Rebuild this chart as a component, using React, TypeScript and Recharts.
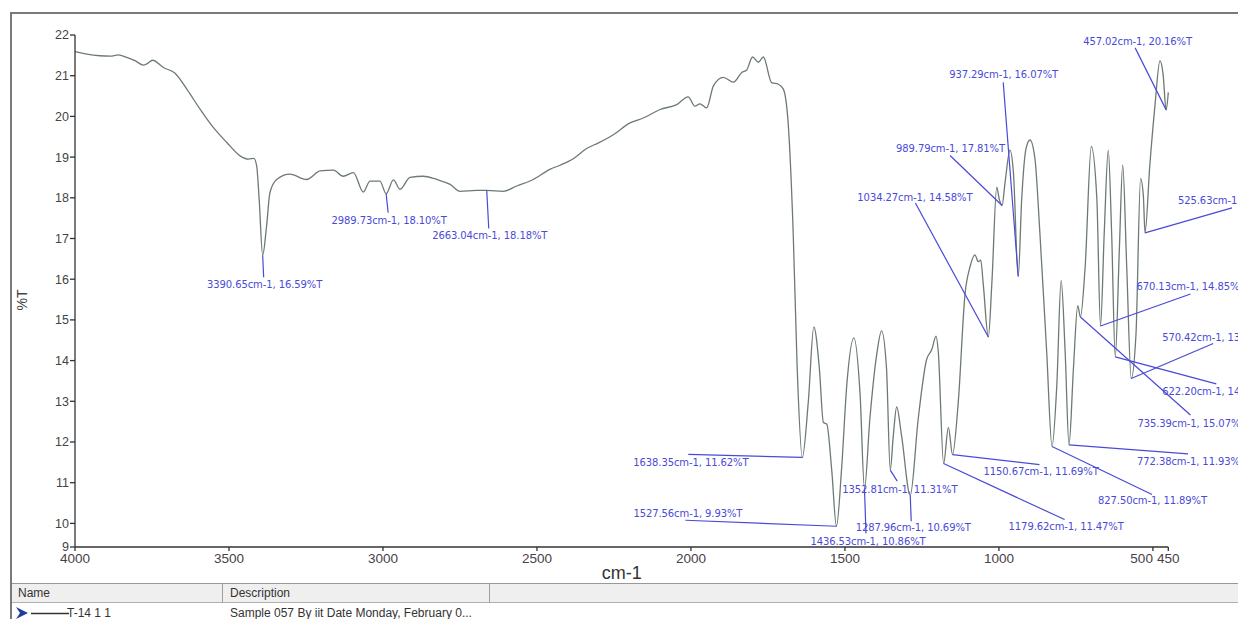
import React from 'react';
import { ComposedChart, Line, XAxis, YAxis } from 'recharts';

// IR spectrum trace: wavenumber (cm-1) and transmittance (%T)
const wavenumbers = [
  4000, 3962, 3919, 3886, 3859, 3832, 3805, 3778, 3767, 3748, 3713, 3675, 3637, 3594, 3551, 3507,
  3464, 3437, 3419, 3410, 3402, 3390.65, 3378, 3367, 3345, 3302, 3248, 3204, 3161, 3129, 3096, 3064,
  3042, 3010, 2989.73, 2966, 2945, 2912, 2869, 2826, 2782, 2750, 2696, 2663.04, 2609, 2566, 2512,
  2458, 2425, 2382, 2339, 2300, 2252, 2198, 2155, 2100, 2046, 2009, 1987, 1971, 1949, 1927, 1895,
  1862, 1835, 1819, 1800, 1781, 1765, 1738, 1716, 1700, 1684, 1668, 1655, 1638.35, 1619, 1601, 1583,
  1570, 1559, 1543, 1527.56, 1511, 1494, 1471, 1451, 1436.53, 1419, 1397, 1381, 1365, 1352.81, 1343,
  1332, 1316, 1287.96, 1262, 1235, 1218, 1204, 1197, 1179.62, 1164, 1150.67, 1132, 1110, 1094, 1078,
  1067, 1059, 1051, 1034.27, 1023, 1007, 999, 989.79, 980, 964, 953, 937.29, 926, 912, 899, 883, 867,
  845, 827.5, 812, 798, 785, 772.38, 758, 744, 735.39, 720, 700, 682, 670.13, 658, 645, 634, 622.2,
  609, 598, 585, 570.42, 555, 540, 531, 525.63, 510, 493, 477, 467, 457.02, 450,
];
const transmittance = [
  21.59, 21.53, 21.49, 21.48, 21.51, 21.45, 21.37, 21.26, 21.29, 21.38, 21.2, 21.06, 20.67, 20.18, 19.73, 19.36,
  19.03, 18.95, 18.97, 18.78, 17.96, 16.59, 17.3, 18.13, 18.45, 18.58, 18.45, 18.66, 18.68, 18.53, 18.62, 18.14,
  18.41, 18.41, 18.1, 18.44, 18.21, 18.5, 18.53, 18.45, 18.33, 18.16, 18.18, 18.18, 18.16, 18.29, 18.45,
  18.7, 18.8, 18.96, 19.21, 19.35, 19.55, 19.84, 19.96, 20.17, 20.29, 20.48, 20.25, 20.31, 20.21, 20.75, 20.96,
  20.84, 21.08, 21.14, 21.46, 21.33, 21.46, 20.83, 20.79, 20.67, 19.8, 17.14, 13.81, 11.62, 12.98, 14.83, 13.81,
  12.48, 12.44, 11.32, 9.93, 11.32, 13.4, 14.56, 13.2, 10.86, 12.57, 14.14, 14.73, 13.81, 11.31, 12.15,
  12.86, 12.15, 10.69, 12.57, 14.02, 14.27, 14.6, 14.23, 11.47, 12.36, 11.69, 12.98, 15.64, 16.3, 16.6,
  16.43, 16.47, 15.89, 14.58, 15.89, 18.26, 17.97, 17.81, 18.38, 19.17, 18.63, 16.07, 17.97, 19.21, 19.42, 18.96, 17.14,
  14.23, 11.89, 13.4, 15.97, 14.23, 11.93, 13.81, 15.35, 15.07, 16.3, 19.26, 17.97, 14.85, 17.14, 19.17, 17.14, 14.09,
  16.72, 18.81, 16.3, 13.56, 14.64, 18.47, 18.05, 17.14, 18.8, 20.29, 21.37, 21.04, 20.16, 20.59,
];

// Picked peaks
const peakWavenumbers = [
  3390.65, 2989.73, 2663.04, 1638.35, 1527.56, 1436.53, 1352.81, 1287.96, 1179.62, 1150.67, 1034.27,
  989.79, 937.29, 457.02, 525.63, 570.42, 622.2, 670.13, 735.39, 772.38, 827.5,
];
const peakTransmittance = [
  16.59, 18.1, 18.18, 11.62, 9.93, 10.86, 11.31, 10.69, 11.47, 11.69, 14.58,
  17.81, 16.07, 20.16, 17.14, 13.56, 14.09, 14.85, 15.07, 11.93, 11.89,
];

const xTicks = [4000, 3500, 3000, 2500, 2000, 1500, 1000, 500, 450];
const yTicks = [9.42, 10, 11, 12, 13, 14, 15, 16, 17, 18, 19, 20, 21, 22];

const spectrum = wavenumbers.map((wn, i) => ({ wn, t: transmittance[i] }));
const peaks = peakWavenumbers.map((wn, i) => ({ wn, t: peakTransmittance[i] }));

// Callout layout for each peak (pixels relative to the peak):
// leader end dx, dy, text dx, dy, text anchor
const calloutLayout: [number, number, number, number, 'start' | 'middle'][] = [
  [1, 22, 2, 33, 'middle'],
  [2, 19, 3, 30, 'middle'],
  [2, 38, 3, 49, 'middle'],
  [-114, -3, -169, 9, 'start'],
  [-151, -6, -203, -9, 'start'],
  [1.5, 45, 3.5, 57, 'middle'],
  [7, 11, -48, 23, 'start'],
  [1, 26, 3, 36, 'middle'],
  [121, 56, 65, 66, 'start'],
  [87, 10, 31, 20, 'start'],
  [-73, -134, -131, -136, 'start'],
  [-52, -50, -106, -54, 'start'],
  [-15, -194, -69, -198, 'start'],
  [-31, -62, -83, -65, 'start'],
  [87, -25, 33, -29, 'start'],
  [82, -35, 31, -38, 'start'],
  [101, 27, 47, 38, 'start'],
  [90, -32, 36, -36, 'start'],
  [110, 98, 57, 110, 'start'],
  [119, 9, 68, 20, 'start'],
  [100, 48, 46, 58, 'start'],
];

const CALLOUT_COLOR = '#4a4ad8';
const AXIS_FONT = '"Liberation Sans", Arial, sans-serif';

const renderCallout = (props: any) => {
  const { cx, cy, index, payload } = props;
  const [ldx, ldy, tdx, tdy, anchor] = calloutLayout[index];
  return (
    <g key={`callout-${index}`}>
      <line x1={cx} y1={cy} x2={cx + ldx} y2={cy + ldy} stroke={CALLOUT_COLOR} strokeWidth={1.2} />
      <text
        x={cx + tdx}
        y={cy + tdy}
        textAnchor={anchor}
        fontSize={10}
        letterSpacing={-0.1}
        fontFamily='"DejaVu Sans", Verdana, sans-serif'
        fill={CALLOUT_COLOR}
      >
        {`${payload.wn.toFixed(2)}cm-1, ${payload.t.toFixed(2)}%T`}
      </text>
    </g>
  );
};

const XTick = (props: any) => {
  const { x, y, payload } = props;
  const anchor = payload.value === 500 ? 'end' : 'middle';
  return (
    <text x={x} y={y} dy={10} textAnchor={anchor} fontSize={13.5} fontFamily={AXIS_FONT} fill="#4a4048">
      {payload.value}
    </text>
  );
};

const YLabel = (props: any) => {
  const { viewBox } = props;
  const x = viewBox.x + 14;
  const y = viewBox.y + viewBox.height / 2 + 9;
  return (
    <text x={x} y={y} transform={`rotate(-90, ${x}, ${y})`} textAnchor="middle" dominantBaseline="central"
      fontSize={14} fontFamily={AXIS_FONT} fill="#444">
      %T
    </text>
  );
};

export default function App() {
  return (
    <div style={{ position: 'fixed', left: 0, top: 0, width: 1238, height: 619, overflow: 'hidden', background: '#fff' }}>
      {/* window frame */}
      <div
        style={{
          position: 'absolute', left: 10, top: 12, width: 1260, height: 640,
          borderTop: '2px solid #7a7a7a', borderLeft: '2px solid #7a7a7a', boxSizing: 'border-box',
        }}
      />
      <div style={{ position: 'absolute', left: 8, top: 8 }}>
        <ComposedChart
          width={1230}
          height={611}
          margin={{ top: 27, right: 69.7, left: 0, bottom: 42 }}
        >
          <XAxis
            dataKey="wn"
            type="number"
            domain={[450, 4000]}
            reversed
            ticks={xTicks}
            interval={0}
            height={30}
            tickSize={4}
            tickMargin={2}
            tick={<XTick />}
            stroke="#333"
            strokeWidth={1.3}
            label={{ value: 'cm-1', position: 'bottom', offset: -11, fontSize: 18, fontFamily: AXIS_FONT, fill: '#333' }}
          />
          <YAxis
            dataKey="t"
            type="number"
            domain={[9.42, 22]}
            ticks={yTicks}
            interval={0}
            width={67}
            tickSize={5}
            tickMargin={1}
            tickFormatter={(v: number) => String(Math.floor(v))}
            tick={{ fontSize: 12.5, fontFamily: AXIS_FONT, fill: '#444' }}
            stroke="#333"
            strokeWidth={1.3}
            label={<YLabel />}
          />
          <Line
            data={spectrum}
            dataKey="t"
            type="monotone"
            stroke="#6d7a73"
            strokeWidth={1.3}
            dot={false}
            activeDot={false}
            isAnimationActive={false}
          />
          <Line
            data={peaks}
            dataKey="t"
            stroke="none"
            dot={renderCallout}
            activeDot={false}
            isAnimationActive={false}
          />
        </ComposedChart>
      </div>
      {/* data-set table */}
      <div
        style={{
          position: 'absolute', left: 12, top: 583, width: 1240, height: 20,
          background: '#efefef', borderTop: '1px solid #999', borderBottom: '1px solid #b0b0b0',
          boxSizing: 'border-box', fontFamily: AXIS_FONT, fontSize: 12, color: '#333',
        }}
      >
        <span style={{ position: 'absolute', left: 6, top: 2 }}>Name</span>
        <div style={{ position: 'absolute', left: 210, top: 0, width: 1, height: 19, background: '#a0a0a0' }} />
        <span style={{ position: 'absolute', left: 218, top: 2 }}>Description</span>
        <div style={{ position: 'absolute', left: 477, top: 0, width: 1, height: 19, background: '#a0a0a0' }} />
      </div>
      <div style={{ position: 'absolute', left: 12, top: 603, width: 1240, height: 16, fontFamily: AXIS_FONT, fontSize: 12, color: '#333' }}>
        <svg style={{ position: 'absolute', left: 3, top: 3 }} width={56} height={14}>
          <path d="M1,1 L13,7 L1,13 L5,7 Z" fill="#1d3c9c" />
          <line x1={16} y1={7.5} x2={54} y2={7.5} stroke="#333" strokeWidth={1.3} />
        </svg>
        <span style={{ position: 'absolute', left: 55, top: 3 }}>T-14 1 1</span>
        <span style={{ position: 'absolute', left: 218, top: 3 }}>Sample 057 By iit Date Monday, February 0...</span>
      </div>
    </div>
  );
}
